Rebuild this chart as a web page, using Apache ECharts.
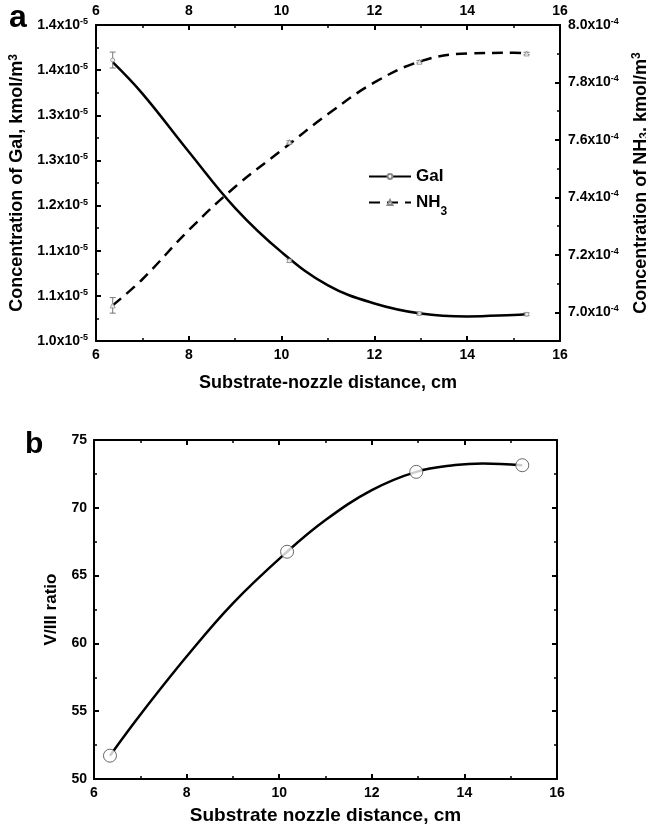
<!DOCTYPE html>
<html lang="en">
<head>
    <meta charset="utf-8">
    <title>GaI / NH3 concentration and V/III ratio</title>
    <script src="https://cdn.jsdelivr.net/npm/echarts@6/dist/echarts.min.js"></script>
    <style>
        html, body { margin: 0; padding: 0; background: #fff; }
        #chart { width: 646px; height: 832px; }
    </style>
</head>
<body>
<div id="chart"></div>
<script type="text/javascript">
    // measured points (distance, cm)
    var distA = [6.36, 10.17, 12.97, 15.28];
    var galPoints = [1.389, 1.111, 1.038, 1.037];      // x1e-5 kmol/m3
    var galErr = [0.011, 0.002, 0.002, 0.002];
    var nh3Points = [7.024, 7.593, 7.872, 7.901];      // x1e-4 kmol/m3
    var nh3Err = [0.027, 0.004, 0.004, 0.004];

    // fitted curves
    var curveDistA = [6.36, 7, 8, 9, 10, 11, 12, 13, 14, 15, 15.28];
    var galCurve = [1.386, 1.3425, 1.262, 1.184, 1.123, 1.077, 1.052, 1.038, 1.034, 1.036, 1.037];
    var nh3Curve = [7.024, 7.115, 7.286, 7.437, 7.564, 7.69, 7.80, 7.874, 7.901, 7.903, 7.901];

    // panel b
    var distB = [6.345, 10.17, 12.96, 15.25];
    var ratioPoints = [51.72, 66.76, 72.65, 73.14];
    var curveDistB = [6.345, 7, 8, 9, 10.17, 11, 12, 12.96, 13.8, 14.4, 15.25];
    var ratioCurve = [51.72, 54.74, 59.03, 62.96, 66.76, 69.1, 71.3, 72.65, 73.15, 73.27, 73.14];

    // tick labels (Origin rounded them to one decimal)
    var galTickLabels = ['1.0', '1.1', '1.1', '1.2', '1.3', '1.3', '1.4', '1.4'];
    var nh3TickValues = [7.0, 7.2, 7.4, 7.6, 7.8, 8.0];

    var FONT = '"Liberation Sans", Arial, sans-serif';

    function pairs(xs, ys) {
        var out = [];
        for (var i = 0; i < xs.length; i++) out.push([xs[i], ys[i]]);
        return out;
    }
    function errRows(xs, ys, es) {
        var out = [];
        for (var i = 0; i < xs.length; i++) out.push([xs[i], ys[i] - es[i], ys[i] + es[i]]);
        return out;
    }

    var supRich = {
        m: { fontFamily: FONT, fontSize: 14, fontWeight: 'bold', color: '#000', lineHeight: 16 },
        s: { fontFamily: FONT, fontSize: 9, fontWeight: 'bold', color: '#000', verticalAlign: 'top', lineHeight: 10 }
    };
    var plainLabel = { fontFamily: FONT, fontSize: 14, fontWeight: 'bold', color: '#000' };
    var axisLine = { show: true, onZero: false, lineStyle: { color: '#000', width: 2 } };
    var majorTick = { show: true, inside: true, length: 5, lineStyle: { color: '#000', width: 2 } };
    var minorTick = { show: true, splitNumber: 2, length: 3, lineStyle: { color: '#000', width: 1.5 } };

    function xAxisFor(grid, pos, showLabel, name, nameGap, nameSize) {
        return {
            type: 'value', gridIndex: grid, position: pos, min: 6, max: 16, interval: 2,
            axisLine: axisLine, axisTick: majorTick, minorTick: minorTick,
            splitLine: { show: false }, minorSplitLine: { show: false },
            axisLabel: Object.assign({ show: showLabel, margin: 7 }, plainLabel),
            name: name || '', nameLocation: 'middle', nameGap: nameGap || 0,
            nameTextStyle: { fontFamily: FONT, fontSize: nameSize || 18, fontWeight: 'bold', color: '#000' }
        };
    }

    function errorBarRender(params, api) {
        var x = api.value(0);
        var lo = api.coord([x, api.value(1)]);
        var hi = api.coord([x, api.value(2)]);
        var w = 3;
        var st = { stroke: '#777', lineWidth: 1 };
        return {
            type: 'group',
            children: [
                { type: 'line', shape: { x1: lo[0], y1: lo[1], x2: hi[0], y2: hi[1] }, style: st },
                { type: 'line', shape: { x1: lo[0] - w, y1: lo[1], x2: lo[0] + w, y2: lo[1] }, style: st },
                { type: 'line', shape: { x1: hi[0] - w, y1: hi[1], x2: hi[0] + w, y2: hi[1] }, style: st }
            ]
        };
    }

    var chart = echarts.init(document.getElementById('chart'), null, { renderer: 'canvas' });
    var option = {
        backgroundColor: '#fff',
        animation: false,
        title: [
            { text: 'a', left: 4, top: -3, textStyle: { fontFamily: FONT, fontSize: 32, fontWeight: 'bold', color: '#000' } },
            { text: 'b', left: 20, top: 425, textStyle: { fontFamily: FONT, fontSize: 30, fontWeight: 'bold', color: '#000' } }
        ],
        grid: [
            { left: 96, top: 25, width: 464, height: 316, containLabel: false, outerBoundsMode: 'none' },
            { left: 94, top: 440, width: 463, height: 339, containLabel: false, outerBoundsMode: 'none' }
        ],
        legend: {
            data: ['GaI', 'NH3'],
            orient: 'vertical',
            left: 363, top: 163,
            itemWidth: 42, itemHeight: 6, itemGap: 9,
            formatter: function (name) {
                return name === 'NH3' ? '{t|NH}{b|3}' : '{t|GaI}';
            },
            textStyle: {
                rich: {
                    t: { fontFamily: FONT, fontSize: 17, fontWeight: 'bold', color: '#000', lineHeight: 18 },
                    b: { fontFamily: FONT, fontSize: 12, fontWeight: 'bold', color: '#000', verticalAlign: 'bottom', lineHeight: 10, padding: [0, 0, -6, 0] }
                }
            }
        },
        xAxis: [
            xAxisFor(0, 'bottom', true, 'Substrate-nozzle distance, cm', 33, 18),
            xAxisFor(0, 'top', true),
            xAxisFor(1, 'bottom', true, 'Substrate nozzle distance, cm', 27, 19),
            xAxisFor(1, 'top', false)
        ],
        yAxis: [
            {
                type: 'value', gridIndex: 0, position: 'left',
                min: 1.0, max: 1.4375, interval: 0.0625,
                axisLine: axisLine, axisTick: majorTick, minorTick: minorTick,
                splitLine: { show: false }, minorSplitLine: { show: false },
                axisLabel: {
                    margin: 8,
                    formatter: function (v) {
                        var i = Math.round((v - 1.0) / 0.0625);
                        return '{m|' + galTickLabels[i] + 'x10}{s|-5}';
                    },
                    rich: supRich
                },
                name: '{n|Concentration of GaI, kmol/m}{p|3}',
                nameLocation: 'middle', nameGap: 66,
                nameTextStyle: {
                    rich: {
                        n: { fontFamily: FONT, fontSize: 18, fontWeight: 'bold', color: '#000', lineHeight: 20 },
                        p: { fontFamily: FONT, fontSize: 12, fontWeight: 'bold', color: '#000', verticalAlign: 'top', lineHeight: 12 }
                    }
                }
            },
            {
                type: 'value', gridIndex: 0, position: 'right',
                min: 6.9, max: 8.0, interval: 0.1,
                axisLine: axisLine,
                axisTick: { show: true, inside: true, length: 3, lineStyle: { color: '#000', width: 1.5 } },
                splitLine: { show: false },
                axisLabel: {
                    margin: 8,
                    customValues: nh3TickValues,
                    formatter: function (v) {
                        return '{m|' + v.toFixed(1) + 'x10}{s|-4}';
                    },
                    rich: supRich
                },
                name: '{n|Concentration of NH}{b|3}{n|, kmol/m}{p|3}',
                nameLocation: 'middle', nameGap: 71,
                nameTextStyle: {
                    rich: {
                        n: { fontFamily: FONT, fontSize: 18, fontWeight: 'bold', color: '#000', lineHeight: 20 },
                        b: { fontFamily: FONT, fontSize: 12, fontWeight: 'bold', color: '#000', verticalAlign: 'bottom', lineHeight: 12 },
                        p: { fontFamily: FONT, fontSize: 12, fontWeight: 'bold', color: '#000', verticalAlign: 'top', lineHeight: 12 }
                    }
                }
            },
            {
                // overlay for the longer major ticks of the NH3 axis
                type: 'value', gridIndex: 0, position: 'right',
                min: 6.9, max: 8.0, interval: 0.1,
                axisLine: { show: false },
                axisTick: { show: true, inside: true, length: 5, customValues: nh3TickValues, lineStyle: { color: '#000', width: 2 } },
                axisLabel: { show: false },
                splitLine: { show: false }
            },
            {
                type: 'value', gridIndex: 1, position: 'left',
                min: 50, max: 75, interval: 5,
                axisLine: axisLine, axisTick: majorTick, minorTick: minorTick,
                splitLine: { show: false }, minorSplitLine: { show: false },
                axisLabel: Object.assign({ margin: 7 }, plainLabel),
                name: 'V/III ratio', nameLocation: 'middle', nameGap: 34,
                nameTextStyle: { fontFamily: FONT, fontSize: 17, fontWeight: 'bold', color: '#000' }
            },
            {
                type: 'value', gridIndex: 1, position: 'right',
                min: 50, max: 75, interval: 5,
                axisLine: axisLine, axisTick: majorTick, minorTick: minorTick,
                splitLine: { show: false }, minorSplitLine: { show: false },
                axisLabel: { show: false }
            }
        ],
        series: [
            {
                name: 'GaI', type: 'line', xAxisIndex: 0, yAxisIndex: 0,
                data: pairs(curveDistA, galCurve), smooth: 0.4,
                showSymbol: false, symbol: 'emptyCircle', symbolSize: 4,
                itemStyle: { color: '#888' },
                lineStyle: { color: '#000', width: 2.5 },
                z: 3
            },
            {
                name: 'NH3', type: 'line', xAxisIndex: 0, yAxisIndex: 1,
                data: pairs(curveDistA, nh3Curve), smooth: 0.4,
                showSymbol: false, symbol: 'emptyTriangle', symbolSize: 5,
                itemStyle: { color: '#888' },
                lineStyle: { color: '#000', width: 2.5, type: [11, 7] },
                z: 3
            },
            {
                name: 'GaI err', type: 'custom', xAxisIndex: 0, yAxisIndex: 0,
                data: errRows(distA, galPoints, galErr), renderItem: errorBarRender, z: 4
            },
            {
                name: 'NH3 err', type: 'custom', xAxisIndex: 0, yAxisIndex: 1,
                data: errRows(distA, nh3Points, nh3Err), renderItem: errorBarRender, z: 4
            },
            {
                name: 'GaI pts', type: 'scatter', xAxisIndex: 0, yAxisIndex: 0,
                data: pairs(distA, galPoints), symbol: 'circle', symbolSize: 4,
                itemStyle: { color: '#fff', borderColor: '#888', borderWidth: 1 }, z: 5
            },
            {
                name: 'NH3 pts', type: 'scatter', xAxisIndex: 0, yAxisIndex: 1,
                data: pairs(distA, nh3Points), symbol: 'triangle', symbolSize: 5,
                itemStyle: { color: '#fff', borderColor: '#888', borderWidth: 1 }, z: 5
            },
            {
                name: 'V/III', type: 'line', xAxisIndex: 2, yAxisIndex: 3,
                data: pairs(curveDistB, ratioCurve), smooth: 0.4, showSymbol: false,
                lineStyle: { color: '#000', width: 2.5 }, z: 3
            },
            {
                name: 'V/III pts', type: 'scatter', xAxisIndex: 2, yAxisIndex: 3,
                data: pairs(distB, ratioPoints), symbol: 'circle', symbolSize: 13,
                itemStyle: { color: '#fff', borderColor: '#444', borderWidth: 1 }, z: 5
            }
        ]
    };
    chart.setOption(option);
</script>
</body>
</html>
